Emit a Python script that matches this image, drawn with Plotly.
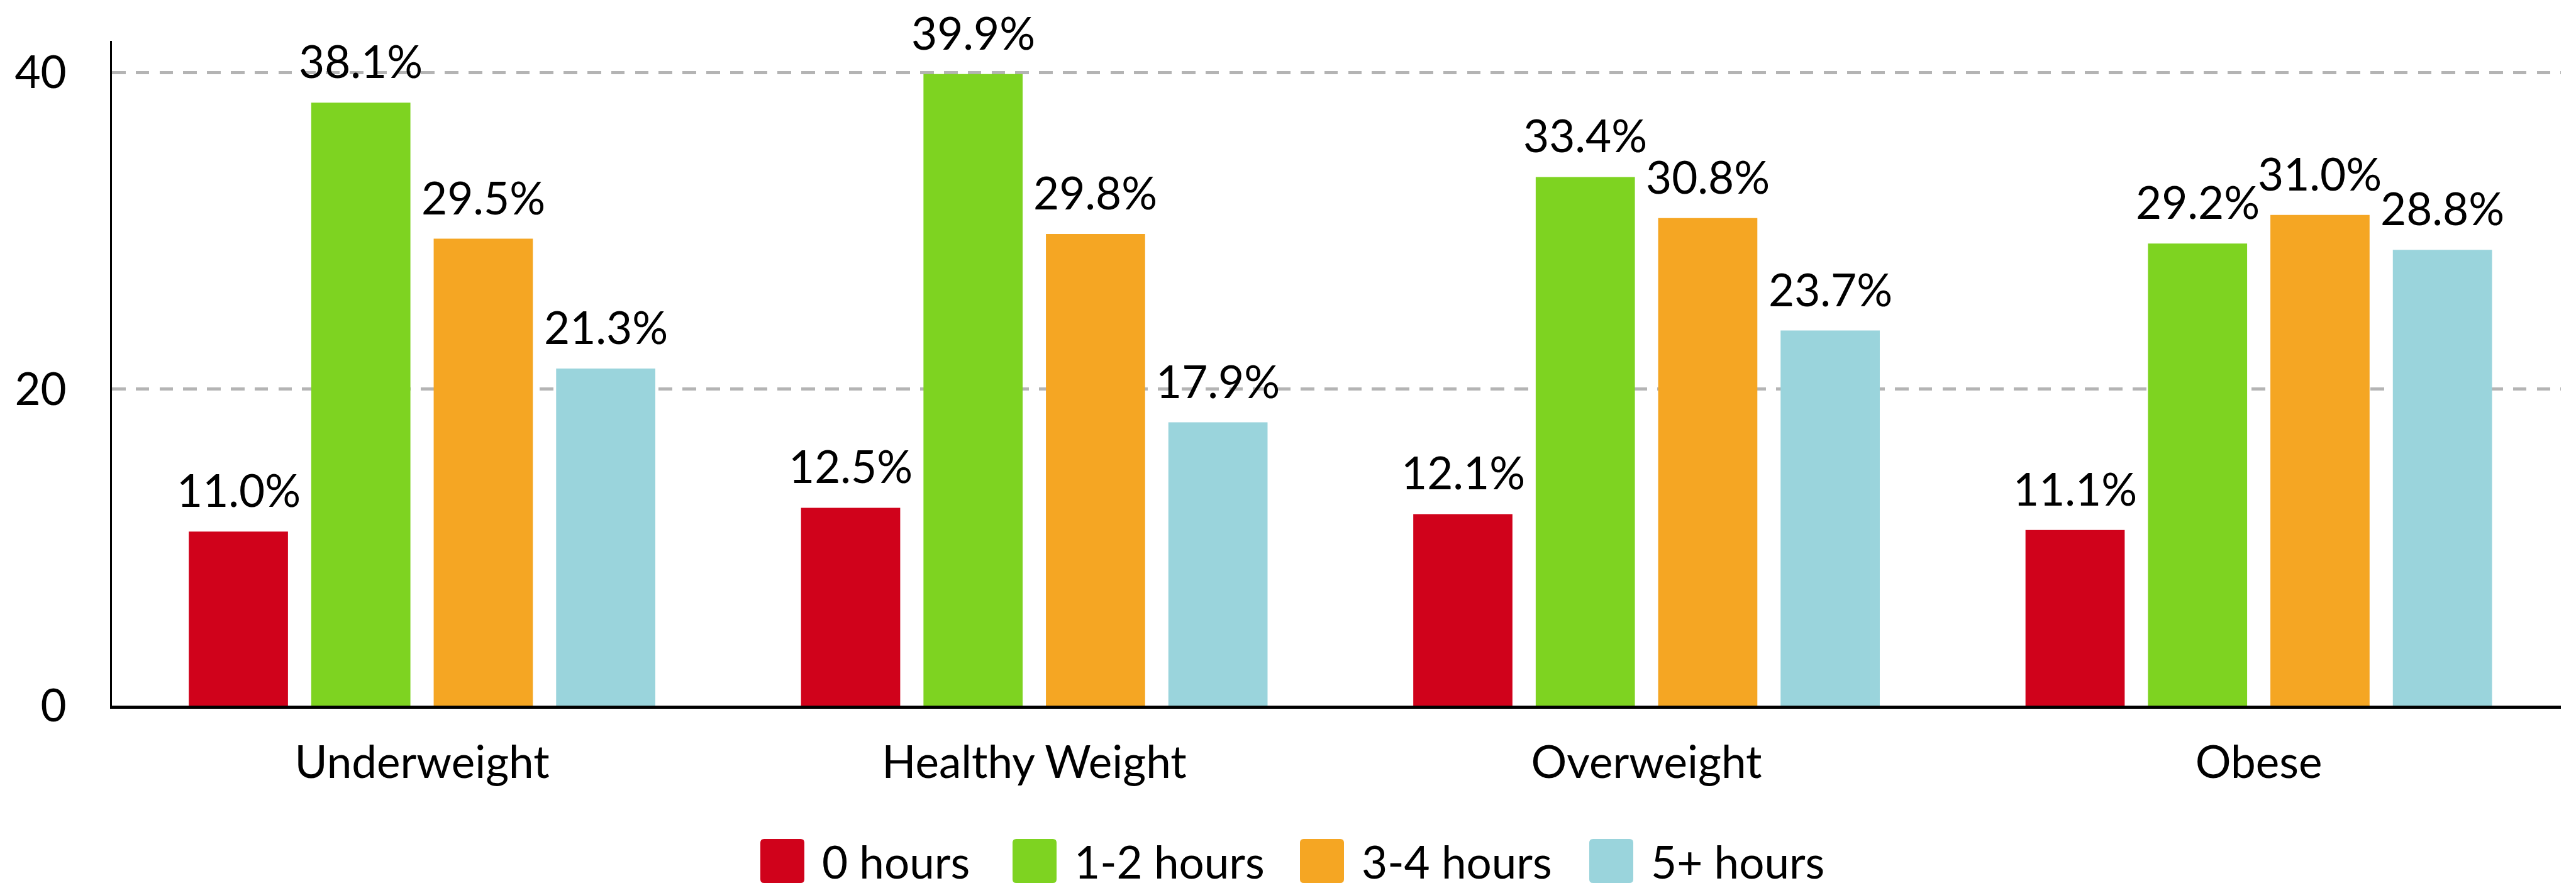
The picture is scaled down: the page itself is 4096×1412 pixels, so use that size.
import plotly.graph_objects as go

# Share of respondents by weight category and daily screen hours
categories = ["Underweight", "Healthy Weight", "Overweight", "Obese"]
series_names = ["0 hours", "1-2 hours", "3-4 hours", "5+ hours"]
hours_0 = [11.0, 12.5, 12.1, 11.1]
hours_1_2 = [38.1, 39.9, 33.4, 29.2]
hours_3_4 = [29.5, 29.8, 30.8, 31.0]
hours_5_plus = [21.3, 17.9, 23.7, 28.8]
y_tick_values = [0, 20, 40]

series_values = [hours_0, hours_1_2, hours_3_4, hours_5_plus]
colors = ["#D0021B", "#7ED321", "#F5A623", "#9AD4DC"]

# Page geometry
W, H = 4096, 1412
ML, MR, MT, MB = 178, 24, 65, 290
PW = W - ML - MR
PH = H - MT - MB
BARGAP = 0.2
BARGROUPGAP = 0.19
X_SHIFT = 0.0065  # small rightward nudge of the category band
FONT = "Lato"
FS = 71
SLOT = PW / len(categories) * (1 - BARGAP) / len(series_names)

fig = go.Figure()
for name, vals, col in zip(series_names, series_values, colors):
    fig.add_trace(go.Bar(
        name=name, x=categories, y=vals,
        marker=dict(color=col, line=dict(width=0)),
        showlegend=False,
    ))

annotations = []
# value labels above each bar
for i, (vals, name) in enumerate(zip(series_values, series_names)):
    for cat, v in zip(categories, vals):
        annotations.append(dict(
            x=cat, y=v, xref="x", yref="y", text=f"{v:.1f}%",
            showarrow=False, xanchor="center", yanchor="bottom",
            xshift=(i - (len(series_names) - 1) / 2) * SLOT, yshift=22,
            font=dict(family=FONT, size=FS, color="#000000"),
        ))

# legend drawn below the axis: rounded swatches plus labels
legend_swatch_px = [1209, 1610, 2067, 2527]
legend_center_py = 1369
SW = 70
R = 6
half = SW / 2
swatch_path = (
    f"M{-half + R},{-half} L{half - R},{-half} Q{half},{-half} {half},{-half + R} "
    f"L{half},{half - R} Q{half},{half} {half - R},{half} "
    f"L{-half + R},{half} Q{-half},{half} {-half},{half - R} "
    f"L{-half},{-half + R} Q{-half},{-half} {-half + R},{-half} Z"
)
shapes = []
ypaper = (H - MB - legend_center_py) / PH
for px, name, col in zip(legend_swatch_px, series_names, colors):
    xc = (px + half - ML) / PW
    shapes.append(dict(
        type="path", xref="paper", yref="paper",
        xsizemode="pixel", ysizemode="pixel", xanchor=xc, yanchor=ypaper,
        path=swatch_path, fillcolor=col, line=dict(width=0), layer="above",
    ))
    annotations.append(dict(
        x=(px + SW + 26 - ML) / PW, y=ypaper, xref="paper", yref="paper",
        text=name, showarrow=False, xanchor="left", yanchor="middle",
        font=dict(family=FONT, size=FS, color="#000000"),
    ))

fig.update_layout(
    width=W, height=H,
    margin=dict(l=ML, r=MR, t=MT, b=MB, pad=0),
    paper_bgcolor="white", plot_bgcolor="white",
    barmode="group", bargap=BARGAP, bargroupgap=BARGROUPGAP,
    font=dict(family=FONT, size=FS, color="#000000"),
    annotations=annotations, shapes=shapes,
    showlegend=False,
)
fig.update_xaxes(
    range=[-0.5 - X_SHIFT, len(categories) - 0.5 - X_SHIFT],
    showline=True, linecolor="#000000", linewidth=4.5,
    showgrid=False, ticks="", ticklabelstandoff=25,
    tickfont=dict(family=FONT, size=FS, color="#000000"),
)
fig.update_yaxes(
    range=[0, 42], tickvals=y_tick_values,
    showline=True, linecolor="#000000", linewidth=3,
    showgrid=True, gridcolor="#B4B4B4", gridwidth=5,
    griddash="21.6px,16.2px", zeroline=False, ticks="",
    ticklabelstandoff=55,
    tickfont=dict(family=FONT, size=FS, color="#000000"),
)

fig.write_html("out.html")
